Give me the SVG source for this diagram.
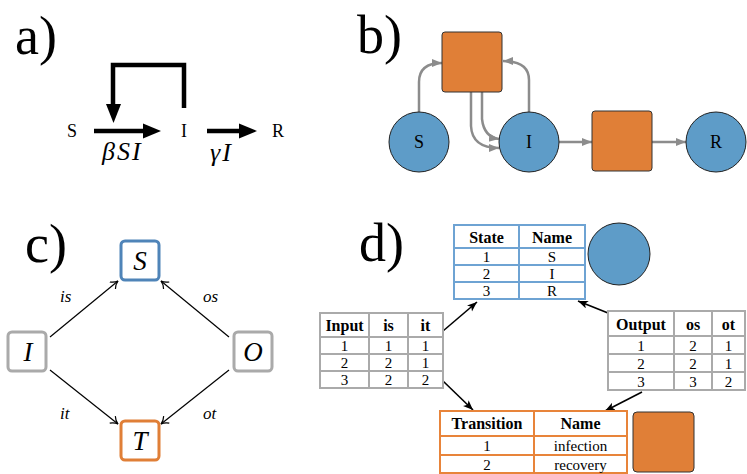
<svg xmlns="http://www.w3.org/2000/svg" width="747" height="474" viewBox="0 0 747 474">
<defs>
<marker id="ga" markerUnits="userSpaceOnUse" markerWidth="12" markerHeight="10" refX="10" refY="4" orient="auto"><path d="M0,0 L10,4 L0,8 z" fill="#8c8c8c"/></marker>
<marker id="ka" markerUnits="userSpaceOnUse" markerWidth="12" markerHeight="10" refX="10" refY="4" orient="auto"><path d="M0,0 L10,4 L0,8 L2.5,4 z" fill="#000"/></marker>
<marker id="oa" markerUnits="userSpaceOnUse" markerWidth="12" markerHeight="12" refX="9" refY="5" orient="auto"><path d="M2,0.5 Q5,4 9,5 Q5,6 2,9.5" fill="none" stroke="#000" stroke-width="1.2"/></marker>
</defs>
<style>
.lab{font-family:"Liberation Serif","DejaVu Serif",serif;font-size:54px;fill:#000}
.t{font-family:"Liberation Serif","DejaVu Serif",serif;fill:#000;text-anchor:middle}
.m{font-family:"Liberation Serif","DejaVu Serif",serif;font-style:italic;fill:#000}
.circ{fill:#5e9cc8;stroke:#222;stroke-width:1}
.sq{fill:#e07f37;stroke:#333;stroke-width:1}
.ge{fill:none;stroke:#8c8c8c;stroke-width:2.5;marker-end:url(#ga)}
.ce{fill:none;stroke:#000;stroke-width:1.2;marker-end:url(#oa)}
.de{fill:none;stroke:#000;stroke-width:1.6;marker-end:url(#ka)}
.hd{font-family:"Liberation Serif","DejaVu Serif",serif;font-weight:bold;font-size:16px;text-anchor:middle;fill:#000}
.cl{font-family:"Liberation Serif","DejaVu Serif",serif;font-size:15px;text-anchor:middle;fill:#000}
.tb{fill:none;stroke-width:2}
</style>
<rect width="747" height="474" fill="#fff"/>

<!-- panel labels -->
<text class="lab" x="15" y="54">a)</text>
<text class="lab" x="357" y="53">b)</text>
<text class="lab" x="25" y="262">c)</text>
<text class="lab" x="359" y="261">d)</text>

<!-- panel a -->
<g id="a-nodes">
<text class="t" x="72" y="137" font-size="18">S</text>
<text class="t" x="184" y="137" font-size="18">I</text>
<text class="t" x="278" y="137" font-size="18">R</text>
<text class="m" x="102" y="160" font-size="26" letter-spacing="2">βSI</text>
<text class="m" x="210" y="161" font-size="26" letter-spacing="2">γI</text>
</g>
<g id="a-connectors" fill="#000">
<path d="M184,108 V65 H113 V106" fill="none" stroke="#000" stroke-width="4.5"/>
<path d="M106,104 L121,104 L113.5,123 z"/>
<path d="M94,131 H145" stroke="#000" stroke-width="4.5"/>
<path d="M143,123.5 L143,138.5 L161,131 z"/>
<path d="M207,131 H241" stroke="#000" stroke-width="4.5"/>
<path d="M239,123.5 L239,138.5 L257,131 z"/>
</g>

<!-- panel b -->
<g id="b-connectors">
<path class="ge" d="M419,112 V82 Q419,63 442,63"/>
<path class="ge" d="M529,112 V80 Q529,61 503,61"/>
<path class="ge" d="M471,92 V126 Q472,148 499,148"/>
<path class="ge" d="M482,92 V119 Q484,137 499,139"/>
<path class="ge" d="M559,142 H592"/>
<path class="ge" d="M652,142 H686"/>
</g>
<g id="b-S"><circle class="circ" cx="419" cy="142" r="30"/><text class="t" x="419" y="148" font-size="18">S</text></g>
<g id="b-I"><circle class="circ" cx="529" cy="142" r="30"/><text class="t" x="529" y="148" font-size="18">I</text></g>
<g id="b-R"><circle class="circ" cx="716" cy="142" r="30"/><text class="t" x="716" y="148" font-size="18">R</text></g>
<g id="b-T1"><rect class="sq" x="442" y="32" width="60" height="60" rx="3"/></g>
<g id="b-T2"><rect class="sq" x="592" y="111" width="60" height="60" rx="3"/></g>

<!-- panel c -->
<g id="c-connectors">
<path class="ce" d="M50,337 L118,281"/>
<path class="ce" d="M229,337 L161,281"/>
<path class="ce" d="M50,370 L118,424"/>
<path class="ce" d="M229,370 L161,424"/>
<text class="m" x="60" y="302" font-size="17">is</text>
<text class="m" x="203" y="302" font-size="17">os</text>
<text class="m" x="60" y="419" font-size="17">it</text>
<text class="m" x="203" y="419" font-size="17">ot</text>
</g>
<g id="c-S"><rect x="121" y="241" width="38" height="39" rx="4" fill="#fff" stroke="#4f84b8" stroke-width="3"/><text class="m" x="140" y="270" font-size="27" text-anchor="middle">S</text></g>
<g id="c-I"><rect x="8" y="332" width="38" height="39" rx="4" fill="#fff" stroke="#aaa" stroke-width="3"/><text class="m" x="28" y="361" font-size="27" text-anchor="middle">I</text></g>
<g id="c-O"><rect x="234" y="332" width="38" height="39" rx="4" fill="#fff" stroke="#aaa" stroke-width="3"/><text class="m" x="253" y="361" font-size="27" text-anchor="middle">O</text></g>
<g id="c-T"><rect x="121" y="421" width="38" height="39" rx="4" fill="#fff" stroke="#e07f37" stroke-width="3"/><text class="m" x="140" y="450" font-size="27" text-anchor="middle">T</text></g>

<!-- panel d -->
<g id="d-connectors">
<path class="de" d="M443,331 L477,302"/>
<path class="de" d="M608,313 L578,301"/>
<path class="de" d="M443,381 L473,410"/>
<path class="de" d="M642,392 L605,411"/>
</g>
<g id="d-state">
<rect x="454" y="225" width="131" height="74" fill="#fff"/>
<path class="tb" stroke="#6ea3d3" d="M454,225 H585 V299 H454 Z M519,225 V299 M454,248 H585 M454,265 H585 M454,282 H585"/>
<text class="hd" x="486.5" y="243">State</text><text class="hd" x="552" y="243">Name</text>
<text class="cl" x="486.5" y="262">1</text><text class="cl" x="552" y="262">S</text>
<text class="cl" x="486.5" y="279">2</text><text class="cl" x="552" y="279">I</text>
<text class="cl" x="486.5" y="296">3</text><text class="cl" x="552" y="296">R</text>
</g>
<g id="d-statecircle"><circle class="circ" cx="619" cy="254" r="31"/></g>
<g id="d-input">
<rect x="320" y="313" width="123" height="75" fill="#fff"/>
<path class="tb" stroke="#aaa" d="M320,313 H443 V388 H320 Z M369,313 V388 M408,313 V388 M320,337 H443 M320,354 H443 M320,371 H443"/>
<text class="hd" x="344.5" y="331">Input</text><text class="hd" x="388.5" y="331">is</text><text class="hd" x="425.5" y="331">it</text>
<text class="cl" x="344.5" y="351">1</text><text class="cl" x="388.5" y="351">1</text><text class="cl" x="425.5" y="351">1</text>
<text class="cl" x="344.5" y="368">2</text><text class="cl" x="388.5" y="368">2</text><text class="cl" x="425.5" y="368">1</text>
<text class="cl" x="344.5" y="385">3</text><text class="cl" x="388.5" y="385">2</text><text class="cl" x="425.5" y="385">2</text>
</g>
<g id="d-output">
<rect x="608" y="311" width="137" height="79" fill="#fff"/>
<path class="tb" stroke="#aaa" d="M608,311 H745 V390 H608 Z M674,311 V390 M712,311 V390 M608,336 H745 M608,354 H745 M608,372 H745"/>
<text class="hd" x="641" y="330">Output</text><text class="hd" x="693" y="330">os</text><text class="hd" x="728.5" y="330">ot</text>
<text class="cl" x="641" y="351">1</text><text class="cl" x="693" y="351">2</text><text class="cl" x="728.5" y="351">1</text>
<text class="cl" x="641" y="369">2</text><text class="cl" x="693" y="369">2</text><text class="cl" x="728.5" y="369">1</text>
<text class="cl" x="641" y="387">3</text><text class="cl" x="693" y="387">3</text><text class="cl" x="728.5" y="387">2</text>
</g>
<g id="d-transition">
<rect x="440" y="411" width="187" height="62" fill="#fff"/>
<path class="tb" stroke="#e8843a" d="M440,411 H627 V473 H440 Z M534,411 V473 M440,436 H627 M440,455 H627"/>
<text class="hd" x="487" y="429">Transition</text><text class="hd" x="580.5" y="429">Name</text>
<text class="cl" x="487" y="451">1</text><text class="cl" x="580.5" y="451">infection</text>
<text class="cl" x="487" y="470">2</text><text class="cl" x="580.5" y="470">recovery</text>
</g>
<g id="d-transquare"><rect class="sq" x="633" y="412" width="61" height="60" rx="4"/></g>
</svg>
